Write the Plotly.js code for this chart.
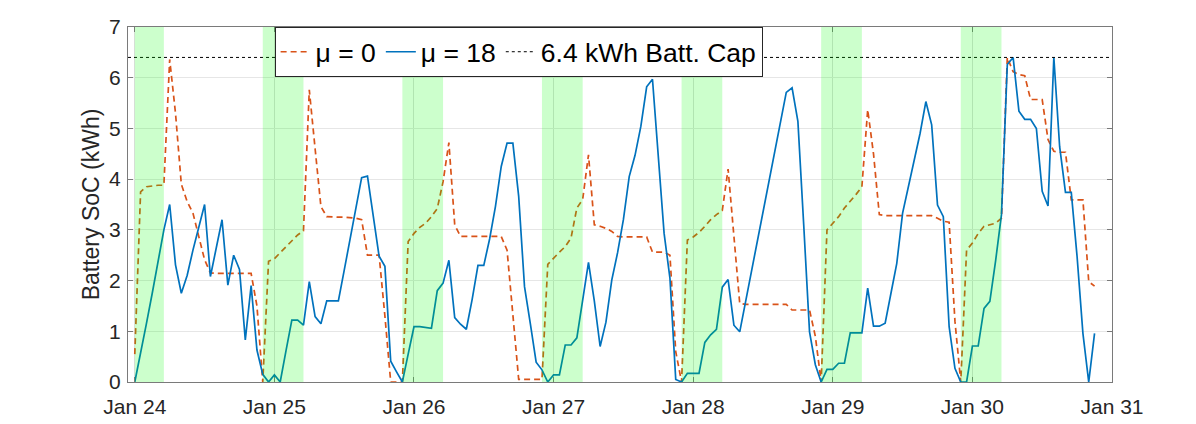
<!DOCTYPE html>
<html>
<head>
<meta charset="utf-8">
<script src="https://cdn.plot.ly/plotly-3.0.1.min.js"></script>
<style>
html,body{margin:0;padding:0;background:#fff;}
#chart{width:1196px;height:424px;}
</style>
</head>
<body>
<div id="chart"></div>
<script>
// ---- data (hourly samples starting Jan 24 00:00) ----
const startTime = '2024-01-24T00:00:00Z';
const mu0 = [
 0.55,3.75,3.85,3.87,3.88,3.88,6.36,5.3,3.9,3.56,3.33,2.87,2.41,2.15,2.14,2.14,2.14,2.14,2.14,2.14,2.14,1.5,0,2.38,
 2.43,2.55,2.67,2.79,2.9,2.98,5.76,4.6,3.46,3.26,3.25,3.25,3.25,3.24,3.23,3.2,2.5,2.5,2.5,1.3,0,0,0,2.77,
 2.93,3.05,3.13,3.26,3.42,3.95,4.72,3.1,2.87,2.87,2.87,2.87,2.87,2.87,2.87,2.87,2.6,1.4,0.05,0.05,0.05,0.05,0.05,2.32,
 2.45,2.56,2.67,2.84,3.43,3.6,4.48,3.1,3.07,3.03,2.97,2.87,2.86,2.86,2.86,2.86,2.86,2.56,2.56,2.56,2.5,0.6,0,2.8,
 2.86,2.95,3.07,3.2,3.3,3.38,4.2,2.9,1.55,1.53,1.53,1.53,1.53,1.53,1.53,1.53,1.53,1.42,1.42,1.42,1.42,0.9,0,3.0,
 3.13,3.26,3.43,3.56,3.7,3.85,5.37,4.5,3.3,3.28,3.28,3.28,3.28,3.28,3.28,3.28,3.28,3.28,3.23,3.17,3.15,1.2,0,2.6,
 2.74,2.93,3.07,3.1,3.13,3.23,6.4,6.12,6.06,6.04,5.57,5.57,5.57,4.78,4.55,4.53,4.53,3.59,3.59,3.59,1.98,1.89
];
const mu18 = [
 0,0.55,1.15,1.75,2.4,3.0,3.5,2.31,1.75,2.1,2.6,3.05,3.5,2.08,2.64,3.2,1.91,2.5,2.22,0.83,1.9,0.63,0.15,0,
 0.14,0,0.62,1.22,1.22,1.12,1.98,1.29,1.15,1.6,1.6,1.6,2.2,2.8,3.4,4.03,4.06,3.27,2.48,2.28,0.41,0.2,0,0.55,
 1.09,1.09,1.08,1.06,1.8,1.95,2.4,1.27,1.14,1.04,1.63,2.3,2.3,2.82,3.46,4.25,4.71,4.71,3.66,1.88,1.15,0.39,0.24,0,
 0.14,0.14,0.73,0.73,0.87,1.6,2.36,1.6,0.7,1.18,2.01,2.55,3.2,4.05,4.47,5.04,5.82,5.97,4.4,2.93,2.05,0.05,0,0.17,
 0.17,0.17,0.78,0.93,1.04,1.87,2.02,1.12,0.99,1.58,2.17,2.76,3.35,3.94,4.53,5.12,5.71,5.8,5.14,3.1,0.99,0.34,0,0.25,
 0.25,0.37,0.37,0.97,0.97,0.97,1.85,1.1,1.1,1.16,1.75,2.34,3.33,3.86,4.38,4.9,5.53,5.07,3.49,3.26,1.09,0.27,0,0,
 0.71,0.71,1.45,1.59,2.4,3.3,6.26,6.4,5.34,5.18,5.18,5.0,3.76,3.47,6.4,4.64,3.74,3.74,2.47,0.96,0,0.96
];
const capValue = [6.4, 6.4];
const xRange = ['2024-01-23 22:50', '2024-01-31 00:00'];
const tickVals = ['2024-01-24','2024-01-25','2024-01-26','2024-01-27','2024-01-28','2024-01-29','2024-01-30','2024-01-31'];
const tickLabels = ['Jan 24','Jan 25','Jan 26','Jan 27','Jan 28','Jan 29','Jan 30','Jan 31'];
const bandStarts = ['2024-01-24 00:00','2024-01-24 22:00','2024-01-25 22:00','2024-01-26 22:00','2024-01-27 22:00','2024-01-28 22:00','2024-01-29 22:00'];
const bandEnds   = ['2024-01-24 05:00','2024-01-25 05:00','2024-01-26 05:00','2024-01-27 05:00','2024-01-28 05:00','2024-01-29 05:00','2024-01-30 05:00'];
const seriesNames = ['μ = 0', 'μ = 18', '6.4 kWh Batt. Cap'];

// ---- build ----
function hourStamp(i){
  const d = new Date(Date.parse(startTime) + i*3600000);
  const p = n => String(n).padStart(2,'0');
  return d.getUTCFullYear()+'-'+p(d.getUTCMonth()+1)+'-'+p(d.getUTCDate())+' '+p(d.getUTCHours())+':00';
}
const times = mu0.map((_,i)=>hourStamp(i));

const traces = [
  {x: times, y: mu0, name: seriesNames[0], type:'scatter', mode:'lines',
   line:{color:'#D95319', width:1.7, dash:'6px,4px'}},
  {x: times, y: mu18, name: seriesNames[1], type:'scatter', mode:'lines',
   line:{color:'#0072BD', width:1.7}},
  {x: xRange, y: capValue, name: seriesNames[2], type:'scatter', mode:'lines',
   line:{color:'#000000', width:1, dash:'dot'}}
];

const shapes = bandStarts.map((s,i)=>({
  type:'rect', xref:'x', yref:'paper', x0:s, x1:bandEnds[i], y0:0, y1:1,
  fillcolor:'rgba(0,255,0,0.2)', line:{width:0}, layer:'above'
}));

const axisCommon = {
  showline:true, linecolor:'#7a7a7a', linewidth:1, mirror:'ticks',
  ticks:'inside', ticklen:5, tickcolor:'#7a7a7a', zeroline:false,
  tickfont:{family:'Liberation Sans, Arial, sans-serif', size:21, color:'#262626'}
};

const layout = {
  width:1196, height:424,
  margin:{l:128, r:84, t:27, b:42},
  paper_bgcolor:'#fff', plot_bgcolor:'#fff',
  showlegend:true,
  legend:{orientation:'h', x:0.149, y:1, xanchor:'left', yanchor:'top',
    bgcolor:'#fff', bordercolor:'#262626', borderwidth:1,
    font:{family:'Liberation Sans, Arial, sans-serif', size:26.5, color:'#000'},
    itemwidth:30, tracegroupgap:0},
  xaxis: Object.assign({}, axisCommon, {
    type:'date', range:xRange, tickvals:tickVals, ticktext:tickLabels,
    ticklabelstandoff:6,
    showgrid:true, gridcolor:'rgba(0,0,0,0.13)', gridwidth:1
  }),
  yaxis: Object.assign({}, axisCommon, {
    range:[0,7], dtick:1, tick0:0, showgrid:true, gridcolor:'#e6e6e6', gridwidth:1,
    ticklabelstandoff:2,
    title:{text:'Battery SoC (kWh)', standoff:3,
      font:{family:'Liberation Sans, Arial, sans-serif', size:23, color:'#262626'}}
  }),
  shapes: shapes
};

Plotly.newPlot('chart', traces, layout, {staticPlot:true, displayModeBar:false});
</script>
</body>
</html>
